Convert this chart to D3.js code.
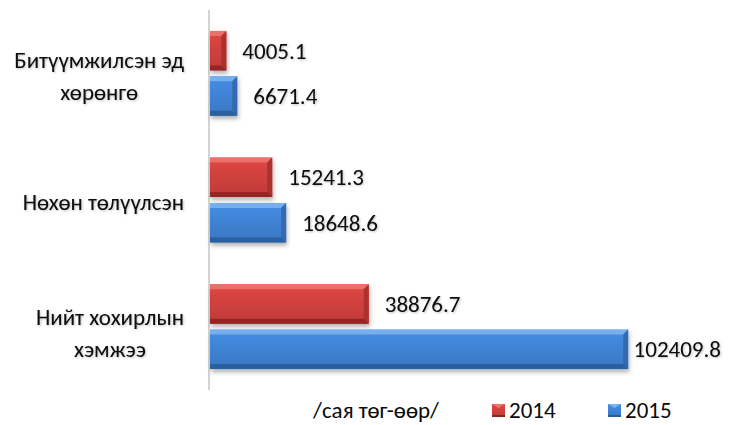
<!DOCTYPE html>
<html><head><meta charset="utf-8">
<script src="https://cdn.jsdelivr.net/npm/d3@7/dist/d3.min.js"></script>
<style>
html,body{margin:0;padding:0;background:#fff;}
text{font-family:Carlito, Lato, "Open Sans", sans-serif;fill:#0a0a0a;}
</style></head>
<body><svg id="c" width="740" height="425"></svg>
<script>
const categories = [["Битүүмжилсэн эд","хөрөнгө"],["Нөхөн төлүүлсэн"],["Нийт хохирлын","хэмжээ"]];
const categoryKeys = ["Битүүмжилсэн эд хөрөнгө","Нөхөн төлүүлсэн","Нийт хохирлын хэмжээ"];
const seriesNames = ["2014","2015"];
const values2014 = [4005.1, 15241.3, 38876.7];
const values2015 = [6671.4, 18648.6, 102409.8];
const unitLabel = "/сая төг-өөр/";
const xMax = 120000;

const svg = d3.select("#c");
const palette = {
  "2014": {main:"#c73e3b", top:"#ec7470", bottom:"#8e2422", end:"#a52f2c"},
  "2015": {main:"#3d7dcc", top:"#7cb3f0", bottom:"#2a5c9c", end:"#3366ad"}
};
const defs = svg.append("defs");
const f = defs.append("filter").attr("id","sh").attr("x","-10%").attr("y","-20%").attr("width","130%").attr("height","160%");
f.append("feDropShadow").attr("dx",1).attr("dy",3).attr("stdDeviation",2).attr("flood-color","#000").attr("flood-opacity",0.3);
const tf = defs.append("filter").attr("id","tsh").attr("x","-5%").attr("y","-20%").attr("width","110%").attr("height","150%");
tf.append("feDropShadow").attr("dx",1).attr("dy",1).attr("stdDeviation",0.8).attr("flood-color","#000").attr("flood-opacity",0.25);
seriesNames.forEach(s=>{
  const g = defs.append("linearGradient").attr("id","g"+s).attr("x1",0).attr("y1",0).attr("x2",0).attr("y2",1);
  const c = d3.color(palette[s].main);
  g.append("stop").attr("offset","0%").attr("stop-color",c.brighter(0.35));
  g.append("stop").attr("offset","100%").attr("stop-color",c.darker(0.15));
});

const x = d3.scaleLinear().domain([0,xMax]).range([210,700]);
const y0 = d3.scaleBand().domain(categoryKeys).range([10,390]).paddingInner(0.33).paddingOuter(0.165);
const y1 = d3.scaleBand().domain(seriesNames).range([0,y0.bandwidth()]).paddingInner(0.13);

// axis line
svg.append("line").attr("x1",209).attr("x2",209).attr("y1",10).attr("y2",390)
  .attr("stroke","#d4d4d4").attr("stroke-width",2);

const data = [];
categoryKeys.forEach((k,i)=>{
  data.push({cat:k, s:"2014", v:values2014[i]});
  data.push({cat:k, s:"2015", v:values2015[i]});
});

const FS = 23;
const bars = svg.append("g");
data.forEach(d=>{
  const x0 = x(0), x1 = x(d.v), yt = y0(d.cat)+y1(d.s), h = y1.bandwidth(), yb = yt+h;
  const b = Math.min(5, (x1-x0)/2);
  const p = palette[d.s];
  const g = bars.append("g").attr("filter","url(#sh)");
  g.append("rect").attr("x",x0).attr("y",yt).attr("width",x1-x0).attr("height",h).attr("fill","url(#g"+d.s+")");
  g.append("polygon").attr("points",[[x0,yt],[x1,yt],[x1-b,yt+b],[x0,yt+b]].join(" ")).attr("fill",p.top).attr("opacity",0.9);
  g.append("polygon").attr("points",[[x0,yb],[x1,yb],[x1-b,yb-b],[x0,yb-b]].join(" ")).attr("fill",p.bottom).attr("opacity",0.9);
  g.append("polygon").attr("points",[[x1,yt],[x1,yb],[x1-b,yb-b],[x1-b,yt+b]].join(" ")).attr("fill",p.end).attr("opacity",0.9);
  const t = svg.append("text").attr("y",yt+h/2).attr("dy","0.35em").attr("font-size",FS).attr("filter","url(#tsh)").text(d.v.toFixed(1));
  const w = t.node().getComputedTextLength();
  t.attr("x", Math.min(x1+16, 721-w));
});

// category labels
const labelRight = 184, lh = 32;
categoryKeys.forEach((k,i)=>{
  const lines = categories[i];
  const cy = y0(k)+y0.bandwidth()/2 + (lines.length>1?3:0) + i*1.5;
  const g = svg.append("g");
  const ts = lines.map((l,j)=> g.append("text").attr("font-size",FS).attr("text-anchor","middle").attr("filter","url(#tsh)")
     .attr("y", cy + (j-(lines.length-1)/2)*lh).attr("dy","0.35em").text(l));
  const mw = d3.max(ts, t=>t.node().getComputedTextLength());
  ts.forEach(t=>t.attr("x", labelRight - mw/2));
});

// legend
const legY = 418;
svg.append("text").attr("x",313).attr("y",legY).attr("font-size",FS).text(unitLabel);
const legX = [492, 608];
seriesNames.forEach((s,i)=>{
  const p = palette[s];
  const lx = legX[i], ly = 404, sz = 13;
  svg.append("rect").attr("x",lx).attr("y",ly).attr("width",sz).attr("height",sz).attr("fill","url(#g"+s+")");
  svg.append("polygon").attr("points",[[lx,ly],[lx+sz,ly],[lx+sz/2,ly+4]].join(" ")).attr("fill",p.top);
  svg.append("rect").attr("x",lx).attr("y",ly+sz-2).attr("width",sz).attr("height",2).attr("fill",p.bottom);
  svg.append("text").attr("x",lx+17).attr("y",legY).attr("font-size",FS).text(s);
});
</script></body></html>
